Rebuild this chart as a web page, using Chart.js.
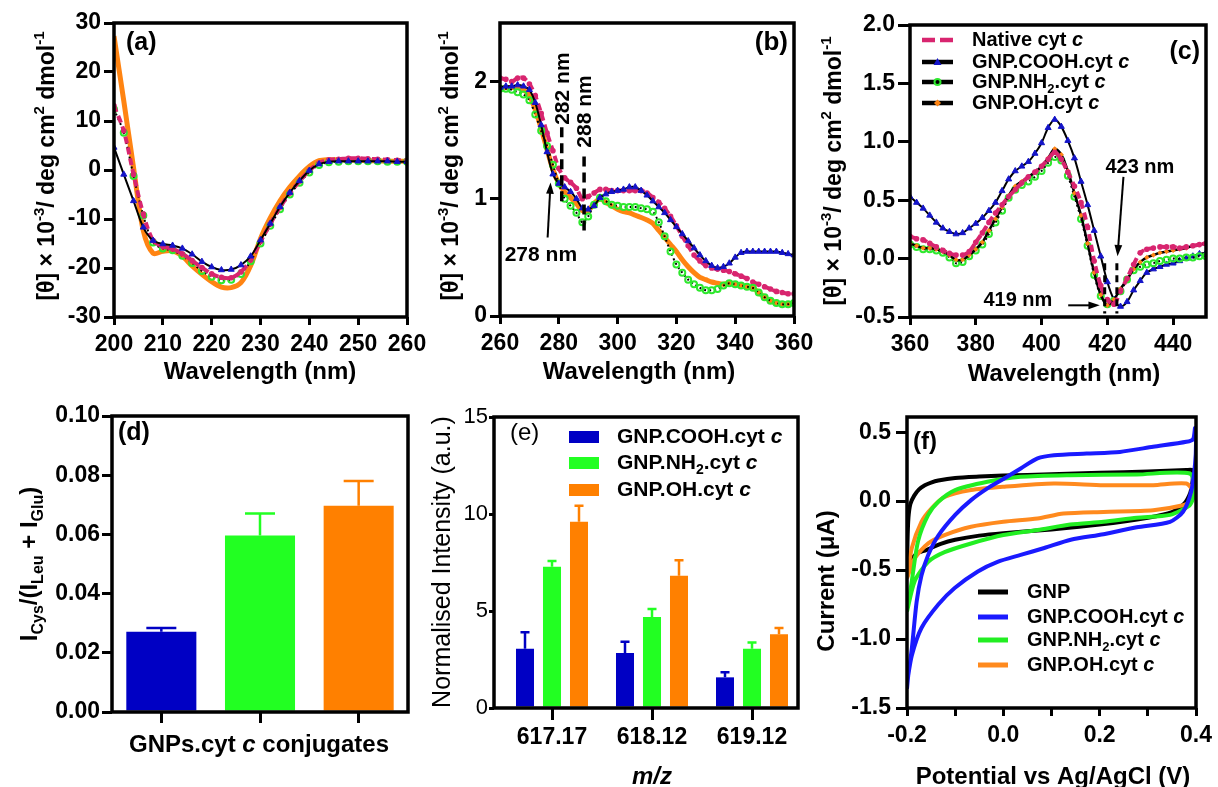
<!DOCTYPE html>
<html>
<head>
<meta charset="utf-8">
<title>CD, MS and CV of GNP-cyt c conjugates</title>
<script src="https://cdn.jsdelivr.net/npm/chart.js@4.4.1/dist/chart.umd.min.js"></script>
<style>
  html, body { margin: 0; padding: 0; background: #fff; }
  #fig { position: relative; width: 1218px; height: 787px; overflow: hidden; }
  #fig canvas { position: absolute; left: 0; top: 0; }
</style>
</head>
<body>
<div id="fig"></div>
<script>
// ---------- (a) far-UV CD ----------
const aNm = [200, 202, 204, 206, 208, 210, 212, 214, 216, 218, 220, 222, 224, 226, 228, 230,
  232, 234, 236, 238, 240, 242, 244, 246, 248, 250, 252, 254, 256, 258, 260];
const aNative = [13.1, 8.0, -0.9, -9.0, -14.4, -15.6, -16.1, -17.1, -18.5, -19.9, -21.2, -21.9, -22.0, -20.8, -18.3, -14.6,
  -11.0, -7.6, -4.7, -2.3, -0.1, 1.4, 2.1, 2.2, 2.4, 2.4, 2.3, 2.2, 2.1, 2.0, 2.0];
const aCOOH = [4.6, -0.9, -6.3, -11.7, -14.4, -15.1, -15.4, -16.0, -17.2, -18.7, -19.8, -20.4, -20.3, -19.4, -17.6, -14.3,
  -10.9, -7.5, -4.6, -2.2, -0.1, 1.2, 1.7, 1.8, 1.8, 1.8, 1.8, 1.8, 1.8, 1.7, 1.7];
const aNH2 = [12.4, 7.6, -1.2, -9.3, -14.8, -16.0, -16.4, -17.5, -19.0, -20.6, -21.8, -22.5, -22.4, -21.2, -18.6, -15.0,
  -11.4, -8.0, -5.0, -2.6, -0.5, 1.0, 1.6, 1.7, 1.8, 1.8, 1.8, 1.8, 1.7, 1.7, 1.7];
const aOH = [27.3, 14.1, 0.5, -12.4, -17.0, -16.6, -16.5, -17.6, -19.6, -21.3, -22.8, -23.9, -24.0, -23.0, -19.5, -14.0,
  -9.8, -6.3, -3.5, -1.2, 0.7, 1.9, 2.1, 2.1, 2.0, 2.0, 1.9, 1.9, 1.8, 1.8, 1.8];
const aTicksX = [200, 210, 220, 230, 240, 250, 260];
const aTicksY = [-30, -20, -10, 0, 10, 20, 30];

// ---------- (b) near-UV CD ----------
const bNm = [260, 262, 264, 266, 268, 270, 272, 274, 276, 278, 280, 282, 284, 286, 288, 290, 292, 294, 296, 298,
  300, 302, 304, 306, 308, 310, 312, 314, 316, 318, 320, 322, 324, 326, 328, 330, 332, 334, 336, 338,
  340, 342, 344, 346, 348, 350, 352, 354, 356, 358, 360];
const bNative = [2.03, 2.02, 2.00, 2.03, 2.03, 1.98, 1.88, 1.73, 1.56, 1.41, 1.26, 1.18, 1.14, 1.09, 1.00, 1.02, 1.05, 1.08, 1.08, 1.07,
  1.07, 1.07, 1.07, 1.07, 1.07, 1.05, 1.01, 0.97, 0.92, 0.85, 0.77, 0.68, 0.60, 0.52, 0.47, 0.43, 0.41, 0.40, 0.39, 0.38,
  0.36, 0.34, 0.32, 0.29, 0.27, 0.25, 0.23, 0.21, 0.20, 0.19, 0.19];
const bCOOH = [1.95, 1.96, 1.96, 1.97, 1.96, 1.93, 1.82, 1.63, 1.40, 1.21, 1.13, 1.10, 1.06, 1.00, 0.92, 0.91, 0.94, 1.01, 1.04, 1.06,
  1.07, 1.08, 1.10, 1.10, 1.07, 1.03, 0.98, 0.93, 0.88, 0.82, 0.76, 0.70, 0.64, 0.58, 0.52, 0.47, 0.43, 0.41, 0.42, 0.45,
  0.50, 0.54, 0.55, 0.55, 0.55, 0.55, 0.55, 0.55, 0.54, 0.53, 0.52];
const bNH2 = [1.94, 1.94, 1.93, 1.91, 1.89, 1.84, 1.72, 1.58, 1.45, 1.29, 1.13, 1.00, 0.94, 0.88, 0.80, 0.85, 0.95, 1.01, 0.98, 0.95,
  0.94, 0.93, 0.93, 0.93, 0.92, 0.91, 0.89, 0.80, 0.68, 0.55, 0.44, 0.37, 0.31, 0.27, 0.24, 0.22, 0.22, 0.23, 0.26, 0.28,
  0.27, 0.26, 0.25, 0.24, 0.20, 0.16, 0.13, 0.11, 0.10, 0.10, 0.11];
const bOH = [1.94, 1.95, 1.95, 1.95, 1.93, 1.88, 1.76, 1.60, 1.42, 1.25, 1.13, 1.06, 1.01, 0.96, 0.90, 0.90, 0.96, 1.00, 0.97, 0.94,
  0.91, 0.89, 0.88, 0.86, 0.84, 0.82, 0.79, 0.73, 0.67, 0.61, 0.55, 0.48, 0.42, 0.37, 0.33, 0.31, 0.29, 0.28, 0.27, 0.28,
  0.27, 0.26, 0.25, 0.24, 0.20, 0.16, 0.13, 0.11, 0.10, 0.10, 0.11];
const bTicksX = [260, 280, 300, 320, 340, 360];
const bTicksY = [0, 1, 2];
// dashed markers (nm, top, bottom, label, label height) and the 278 nm arrow
const bMarkNm = [281, 288.6];
const bMarkTop = [1.61, 1.36];
const bMarkBottom = [0.94, 0.70];
const bMarkLabel = ['282 nm', '288 nm'];
const bMarkLabelY = [1.94, 1.745];
const bArrowFrom = [276.2, 0.67];
const bArrowTo = [277.2, 1.14];
const bNoteAt = [273.9, 0.52];

// ---------- (c) Soret CD ----------
const cNm = [360, 362, 364, 366, 368, 370, 372, 374, 376, 378, 380, 382, 384, 386, 388, 390, 392, 394, 396, 398,
  400, 402, 404, 406, 408, 410, 412, 414, 416, 418, 420, 422, 424, 426, 428, 430, 432, 434, 436, 438,
  440, 442, 444, 446, 448, 450];
const cNative = [0.19, 0.17, 0.16, 0.13, 0.10, 0.07, 0.045, 0.03, 0.03, 0.06, 0.14, 0.22, 0.31, 0.39, 0.46, 0.53, 0.59, 0.65, 0.70, 0.74,
  0.79, 0.85, 0.91, 0.85, 0.74, 0.62, 0.48, 0.27, -0.02, -0.23, -0.35, -0.39, -0.28, -0.17, -0.05, 0.05, 0.08, 0.09, 0.10, 0.10,
  0.10, 0.09, 0.10, 0.11, 0.12, 0.13];
const cCOOH = [0.53, 0.48, 0.43, 0.37, 0.31, 0.26, 0.23, 0.21, 0.22, 0.26, 0.30, 0.35, 0.41, 0.48, 0.58, 0.68, 0.75, 0.79, 0.83, 0.90,
  0.99, 1.12, 1.19, 1.13, 1.01, 0.86, 0.66, 0.46, 0.24, 0.02, -0.20, -0.35, -0.41, -0.37, -0.27, -0.19, -0.12, -0.09, -0.07, -0.05,
  -0.04, -0.02, 0.00, 0.02, 0.04, 0.05];
const cNH2 = [0.12, 0.10, 0.08, 0.08, 0.07, 0.05, 0.01, -0.04, -0.03, 0.02, 0.07, 0.12, 0.21, 0.31, 0.41, 0.52, 0.59, 0.63, 0.66, 0.70,
  0.75, 0.82, 0.87, 0.84, 0.71, 0.53, 0.34, 0.11, -0.14, -0.32, -0.39, -0.36, -0.28, -0.18, -0.10, -0.07, -0.05, -0.04, -0.02, -0.01,
  0.00, 0.00, 0.01, 0.01, 0.02, 0.02];
const cOH = [0.13, 0.11, 0.09, 0.09, 0.08, 0.06, 0.03, -0.01, -0.01, 0.03, 0.08, 0.14, 0.24, 0.34, 0.44, 0.54, 0.62, 0.66, 0.70, 0.74,
  0.79, 0.86, 0.94, 0.89, 0.75, 0.56, 0.37, 0.13, -0.12, -0.31, -0.40, -0.35, -0.26, -0.18, -0.09, -0.03, 0.01, 0.03, 0.05, 0.06,
  0.07, 0.08, 0.09, 0.11, 0.12, 0.13];
const cTicksX = [360, 380, 400, 420, 440];
const cTicksY = [-0.5, 0, 0.5, 1, 1.5, 2];
const cMarkNm = [419.2, 422.9];
const cMarkTop = -0.04;
const cMarkBottom = -0.47;
const cNote423 = [429.9, 0.78];
const cArrow423 = [424.9, 0.70, 423.1, 0.02];
const cNote419 = [392.8, -0.36];
const cArrow419 = [408.1, -0.40, 417.7, -0.40];

// ---------- (d) Cys ratio ----------
const dCats = ['GNP.COOH.cyt c', 'GNP.NH2.cyt c', 'GNP.OH.cyt c'];
const dValues = [0.0271, 0.0596, 0.0697];
const dErrors = [0.0013, 0.0075, 0.0083];
const dTicksY = [0, 0.02, 0.04, 0.06, 0.08, 0.1];

// ---------- (e) MS intensities ----------
const eCats = ['617.17', '618.12', '619.12'];
const eCOOH = [3.06, 2.84, 1.58];
const eCOOHErr = [0.84, 0.58, 0.26];
const eNH2 = [7.28, 4.69, 3.06];
const eNH2Err = [0.30, 0.41, 0.31];
const eOH = [9.60, 6.82, 3.80];
const eOHErr = [0.83, 0.79, 0.32];
const eTicksY = [0, 5, 10, 15];

// ---------- (f) cyclic voltammetry (loops, in scan order) ----------
const fGnpV = [-0.2, -0.199, -0.197, -0.193, -0.185, -0.175, -0.163, -0.15, -0.135, -0.1, -0.05, 0.0, 0.1, 0.2, 0.3, 0.38, 0.392,
  0.393, 0.388, 0.375, 0.35, 0.3, 0.2, 0.1, 0.0, -0.05, -0.1, -0.13, -0.16, -0.18, -0.193, -0.2];
const fGnpI = [-0.55, -0.3, -0.12, -0.02, 0.04, 0.085, 0.115, 0.135, 0.15, 0.168, 0.178, 0.185, 0.195, 0.205, 0.215, 0.225, 0.225,
  0.15, 0.06, -0.02, -0.08, -0.12, -0.17, -0.205, -0.232, -0.25, -0.28, -0.31, -0.355, -0.38, -0.44, -0.55];
const fCoohV = [-0.2, -0.197, -0.19, -0.18, -0.17, -0.156, -0.135, -0.1, -0.067, -0.033, 0.0, 0.036, 0.071, 0.105, 0.173, 0.242,
  0.311, 0.38, 0.394, 0.398, 0.4, 0.398, 0.39, 0.373, 0.346, 0.277, 0.208, 0.14, 0.085, 0.036, -0.012, -0.053, -0.101, -0.135,
  -0.17, -0.19, -0.2];
const fCoohI = [-1.36, -1.25, -1.07, -0.73, -0.54, -0.39, -0.25, -0.10, 0.007, 0.092, 0.16, 0.237, 0.31, 0.333, 0.345, 0.357,
  0.394, 0.43, 0.45, 0.53, 0.42, 0.27, 0.07, -0.077, -0.15, -0.19, -0.24, -0.28, -0.34, -0.39, -0.44, -0.51, -0.63, -0.75,
  -0.92, -1.12, -1.32];
const fNh2V = [-0.2, -0.19, -0.177, -0.156, -0.135, -0.1, -0.033, 0.036, 0.139, 0.277, 0.387, 0.398, 0.394, 0.387, 0.346, 0.277,
  0.208, 0.139, 0.071, 0.0, -0.067, -0.122, -0.156, -0.184, -0.2];
const fNh2I = [-0.80, -0.58, -0.29, -0.10, -0.005, 0.08, 0.14, 0.176, 0.188, 0.193, 0.2, 0.08, 0.02, -0.03, -0.10, -0.12,
  -0.15, -0.17, -0.21, -0.246, -0.307, -0.37, -0.44, -0.58, -0.80];
const fOhV = [-0.2, -0.19, -0.17, -0.149, -0.122, -0.067, 0.0, 0.105, 0.208, 0.311, 0.38, 0.395, 0.39, 0.373, 0.311, 0.208,
  0.125, 0.071, 0.0, -0.067, -0.122, -0.156, -0.184, -0.2];
const fOhI = [-0.56, -0.34, -0.15, -0.052, 0.03, 0.08, 0.104, 0.128, 0.116, 0.116, 0.128, 0.06, 0.0, -0.03, -0.066, -0.078,
  -0.09, -0.126, -0.15, -0.186, -0.246, -0.306, -0.415, -0.56];
const fTicksX = [-0.2, -0.1, 0, 0.1, 0.2, 0.3, 0.4];
const fTicksY = [-1.5, -1, -0.5, 0, 0.5];

// ---------- drawing ----------
const W = 1218, H = 787, YW = 70, XH = 50;
const FONT = '"Liberation Sans", Arial, Helvetica, sans-serif';
const PINK = '#d8256f', BLUE = '#1414c8', GREEN = '#2ee82e', ORANGE = '#ff8412';
const BAR_BLUE = '#0000c4', BAR_GREEN = '#22ff22', BAR_ORANGE = '#ff8000';
const CV_BLUE = '#1a1aff', CV_GREEN = '#22ee22', CV_ORANGE = '#ff8a1e';
const THETA_TITLE = '[θ] × 10^{-3}/ deg cm^{2} dmol^{-1}';

const BOX = {
  a: { l: 114, t: 23, r: 407, b: 317 },
  b: { l: 500, t: 23, r: 794, b: 316 },
  c: { l: 910, t: 25, r: 1206, b: 317 },
  d: { l: 112, t: 416, r: 408, b: 712 },
  e: { l: 494, t: 417, r: 798, b: 708 },
  f: { l: 907, t: 417, r: 1198, b: 708 }
};

// "^{..}" superscript, "_{..}" subscript, "*..*" italic
function parseRich(str) {
  const parts = [];
  let buf = '', italic = false, i = 0;
  const flush = () => { if (buf) parts.push({ t: buf, italic, shift: 0 }); buf = ''; };
  while (i < str.length) {
    const ch = str[i];
    if ((ch === '^' || ch === '_') && str[i + 1] === '{') {
      flush();
      const end = str.indexOf('}', i);
      parts.push({ t: str.slice(i + 2, end), italic, shift: ch === '^' ? -1 : 1 });
      i = end + 1;
      continue;
    }
    if (ch === '*') { flush(); italic = !italic; i++; continue; }
    buf += ch; i++;
  }
  flush();
  return parts;
}

function richText(ctx, str, x, y, o) {
  const size = o.size || 22, weight = o.weight || 'bold';
  const parts = parseRich(str);
  const fontOf = p => (p.italic ? 'italic ' : '') + weight + ' ' + (p.shift ? Math.round(size * 0.66) : size) + 'px ' + FONT;
  let total = 0;
  parts.forEach(p => { ctx.font = fontOf(p); p.w = ctx.measureText(p.t).width; total += p.w; });
  ctx.save();
  ctx.translate(x, y);
  if (o.rotate) ctx.rotate(-Math.PI / 2);
  ctx.fillStyle = o.color || '#000';
  ctx.textBaseline = 'middle';
  ctx.textAlign = 'left';
  let cx = o.align === 'left' ? 0 : o.align === 'right' ? -total : -total / 2;
  parts.forEach(p => {
    ctx.font = fontOf(p);
    ctx.fillText(p.t, cx, p.shift * size * 0.36);
    cx += p.w;
  });
  ctx.restore();
}

function arrow(ctx, x1, y1, x2, y2) {
  const ang = Math.atan2(y2 - y1, x2 - x1), hl = 12;
  ctx.save();
  ctx.strokeStyle = ctx.fillStyle = '#000';
  ctx.lineWidth = 2;
  ctx.beginPath();
  ctx.moveTo(x1, y1);
  ctx.lineTo(x2 - Math.cos(ang) * hl * 0.8, y2 - Math.sin(ang) * hl * 0.8);
  ctx.stroke();
  ctx.beginPath();
  ctx.moveTo(x2, y2);
  ctx.lineTo(x2 - hl * Math.cos(ang - 0.33), y2 - hl * Math.sin(ang - 0.33));
  ctx.lineTo(x2 - hl * Math.cos(ang + 0.33), y2 - hl * Math.sin(ang + 0.33));
  ctx.closePath();
  ctx.fill();
  ctx.restore();
}

function vdash(ctx, x, y1, y2, dash, lw) {
  ctx.save();
  ctx.strokeStyle = '#000';
  ctx.lineWidth = lw;
  ctx.setLineDash(dash);
  ctx.beginPath();
  ctx.moveTo(x, y1);
  ctx.lineTo(x, y2);
  ctx.stroke();
  ctx.restore();
}

function pts(xs, ys) { return xs.map((x, i) => ({ x, y: ys[i] })); }

const STY = {
  native: { borderColor: PINK, borderWidth: 4, borderDash: [7, 4], pointStyle: 'circle', pointRadius: 2.8,
    pointBackgroundColor: PINK, pointBorderWidth: 0 },
  cooh: { borderColor: '#000', borderWidth: 2, pointStyle: 'triangle', pointRadius: 3.5,
    pointBackgroundColor: BLUE, pointBorderColor: BLUE, pointBorderWidth: 1 },
  nh2: { borderColor: '#000', borderWidth: 2, borderDash: [2, 3], pointStyle: 'circle', pointRadius: 3,
    pointBackgroundColor: 'rgba(0,0,0,0)', pointBorderColor: GREEN, pointBorderWidth: 2 },
  ohThick: { borderColor: ORANGE, borderWidth: 5, pointRadius: 0 },
  ohMark: { borderColor: '#000', borderWidth: 2.5, pointStyle: 'rectRot', pointRadius: 2.6,
    pointBackgroundColor: ORANGE, pointBorderColor: ORANGE, pointBorderWidth: 0 }
};

function lineDs(xs, ys, style) {
  return Object.assign({ data: pts(xs, ys), tension: 0.3, fill: false }, STY[style]);
}

function cvDs(xs, ys, color) {
  return { data: pts(xs, ys), showLine: true, borderColor: color, borderWidth: 4, pointRadius: 0, tension: 0.25, fill: false };
}

function axis(pos, min, max, ticks, fmt, o) {
  o = o || {};
  const left = pos === 'left';
  return {
    type: 'linear', position: pos, min, max, offset: false,
    afterBuildTicks: s => { s.ticks = ticks.map(v => ({ value: v })); },
    afterFit: s => { if (left) s.width = YW; else s.height = XH; },
    grid: { drawOnChartArea: false, drawTicks: true, offset: false, tickLength: o.tick || (left ? 10 : 8),
      color: '#000', lineWidth: 3 },
    border: { display: false },
    ticks: { color: '#000', autoSkip: false, maxRotation: 0, padding: o.pad !== undefined ? o.pad : (left ? 3 : 6),
      font: { family: FONT, size: o.size || 23, weight: o.weight || 'bold' },
      callback: v => fmt(v) }
  };
}

function deco(draw) {
  return {
    id: 'deco',
    afterDraw(chart) {
      const ctx = chart.ctx, a = chart.chartArea;
      ctx.save();
      ctx.strokeStyle = '#000';
      ctx.lineWidth = 3.5;
      ctx.strokeRect(a.left, a.top, a.right - a.left, a.bottom - a.top);
      ctx.restore();
      draw(ctx, chart.scales.x, chart.scales.y, chart);
    }
  };
}

function panel(box, config, draw) {
  const c = document.createElement('canvas');
  c.width = W; c.height = H;
  c.style.width = W + 'px'; c.style.height = H + 'px';
  document.getElementById('fig').appendChild(c);
  config.options = Object.assign({
    responsive: false, animation: false, devicePixelRatio: 1, events: [],
    layout: { padding: { left: box.l - YW, top: box.t, right: W - box.r, bottom: H - box.b - XH } },
    plugins: { legend: { display: false }, tooltip: { enabled: false } }
  }, config.options);
  config.plugins = [deco(draw)];
  return new Chart(c, config);
}

function cdLegendSample(ctx, kind, x1, x2, y) {
  ctx.save();
  ctx.lineWidth = 4.5;
  if (kind === 'native') {
    ctx.strokeStyle = PINK;
    ctx.setLineDash([13, 5]);
  } else {
    ctx.strokeStyle = '#000';
  }
  ctx.beginPath(); ctx.moveTo(x1, y); ctx.lineTo(x2, y); ctx.stroke();
  ctx.setLineDash([]);
  const mx = (x1 + x2) / 2;
  if (kind === 'cooh') {
    ctx.fillStyle = BLUE;
    ctx.beginPath(); ctx.moveTo(mx, y - 4); ctx.lineTo(mx + 4, y + 3); ctx.lineTo(mx - 4, y + 3); ctx.closePath(); ctx.fill();
  } else if (kind === 'nh2') {
    ctx.strokeStyle = GREEN; ctx.lineWidth = 2;
    ctx.beginPath(); ctx.arc(mx, y, 3, 0, Math.PI * 2); ctx.stroke();
  } else if (kind === 'oh') {
    ctx.fillStyle = ORANGE;
    ctx.beginPath(); ctx.moveTo(mx, y - 3.5); ctx.lineTo(mx + 3.5, y); ctx.lineTo(mx, y + 3.5); ctx.lineTo(mx - 3.5, y); ctx.closePath(); ctx.fill();
  }
  ctx.restore();
}

function errorBars(ctx, chart, errs, capW) {
  const ys = chart.scales.y;
  chart.data.datasets.forEach((ds, di) => {
    chart.getDatasetMeta(di).data.forEach((bar, i) => {
      const raw = ds.data[i];
      const v = typeof raw === 'number' ? raw : raw.y;
      const top = ys.getPixelForValue(v + errs[di][i]);
      const col = Array.isArray(ds.backgroundColor) ? ds.backgroundColor[i] : ds.backgroundColor;
      ctx.save();
      ctx.strokeStyle = col;
      ctx.lineWidth = 2.5;
      ctx.beginPath();
      ctx.moveTo(bar.x, bar.y);
      ctx.lineTo(bar.x, top);
      ctx.moveTo(bar.x - capW / 2, top);
      ctx.lineTo(bar.x + capW / 2, top);
      ctx.stroke();
      ctx.restore();
    });
  });
}

// (a)
panel(BOX.a, {
  type: 'line',
  data: { datasets: [lineDs(aNm, aCOOH, 'cooh'), lineDs(aNm, aNative, 'native'), lineDs(aNm, aNH2, 'nh2'), lineDs(aNm, aOH, 'ohThick')] },
  options: { scales: {
    x: axis('bottom', 200, 260, aTicksX, v => String(v)),
    y: axis('left', -30, 30, aTicksY, v => String(v))
  } }
}, (ctx) => {
  richText(ctx, '(a)', 126, 43, { align: 'left', size: 25 });
  richText(ctx, 'Wavelength (nm)', 260, 372, { size: 24 });
  richText(ctx, THETA_TITLE, 48, 166, { size: 23, rotate: true });
});

// (b)
panel(BOX.b, {
  type: 'line',
  data: { datasets: [lineDs(bNm, bCOOH, 'cooh'), lineDs(bNm, bNH2, 'nh2'), lineDs(bNm, bNative, 'native'), lineDs(bNm, bOH, 'ohThick')] },
  options: { scales: {
    x: axis('bottom', 260, 360, bTicksX, v => String(v)),
    y: axis('left', 0, 2.5, bTicksY, v => String(v))
  } }
}, (ctx, x, y) => {
  richText(ctx, '(b)', 788, 43, { align: 'right', size: 26 });
  richText(ctx, 'Wavelength (nm)', 639, 372, { size: 24 });
  richText(ctx, THETA_TITLE, 452, 166, { size: 23, rotate: true });
  bMarkNm.forEach((nm, i) => {
    const px = x.getPixelForValue(nm);
    vdash(ctx, px, y.getPixelForValue(bMarkTop[i]), y.getPixelForValue(bMarkBottom[i]), [10, 6], 3.5);
    richText(ctx, bMarkLabel[i], px + 1, y.getPixelForValue(bMarkLabelY[i]), { size: 21, rotate: true });
  });
  arrow(ctx, x.getPixelForValue(bArrowFrom[0]), y.getPixelForValue(bArrowFrom[1]),
    x.getPixelForValue(bArrowTo[0]), y.getPixelForValue(bArrowTo[1]));
  richText(ctx, '278 nm', x.getPixelForValue(bNoteAt[0]), y.getPixelForValue(bNoteAt[1]), { size: 21 });
});

// (c)
panel(BOX.c, {
  type: 'line',
  data: { datasets: [lineDs(cNm, cNative, 'native'), lineDs(cNm, cOH, 'ohMark'), lineDs(cNm, cNH2, 'nh2'), lineDs(cNm, cCOOH, 'cooh')] },
  options: { scales: {
    x: axis('bottom', 360, 450, cTicksX, v => String(v)),
    y: axis('left', -0.5, 2.0, cTicksY, v => v.toFixed(1), { tick: 12 })
  } }
}, (ctx, x, y) => {
  richText(ctx, '(c)', 1200, 52, { align: 'right', size: 25 });
  richText(ctx, 'Wavelength (nm)', 1064, 374, { size: 24 });
  richText(ctx, THETA_TITLE, 835, 171, { size: 23, rotate: true });
  const legend = [['Native cyt *c*', 'native'], ['GNP.COOH.cyt *c*', 'cooh'], ['GNP.NH_{2}.cyt *c*', 'nh2'], ['GNP.OH.cyt *c*', 'oh']];
  [40, 62, 82, 103].forEach((ly, i) => {
    cdLegendSample(ctx, legend[i][1], 922, 953, ly);
    richText(ctx, legend[i][0], 972, ly, { align: 'left', size: 20 });
  });
  cMarkNm.forEach(nm => {
    vdash(ctx, x.getPixelForValue(nm), y.getPixelForValue(cMarkTop), y.getPixelForValue(cMarkBottom), [7, 5], 3);
  });
  richText(ctx, '423 nm', x.getPixelForValue(cNote423[0]), y.getPixelForValue(cNote423[1]), { size: 20 });
  arrow(ctx, x.getPixelForValue(cArrow423[0]), y.getPixelForValue(cArrow423[1]),
    x.getPixelForValue(cArrow423[2]), y.getPixelForValue(cArrow423[3]));
  richText(ctx, '419 nm', x.getPixelForValue(cNote419[0]), y.getPixelForValue(cNote419[1]), { size: 20 });
  arrow(ctx, x.getPixelForValue(cArrow419[0]), y.getPixelForValue(cArrow419[1]),
    x.getPixelForValue(cArrow419[2]), y.getPixelForValue(cArrow419[3]));
});

// (d)
panel(BOX.d, {
  type: 'bar',
  data: { labels: dCats, datasets: [{ data: dValues, backgroundColor: [BAR_BLUE, BAR_GREEN, BAR_ORANGE], borderWidth: 0,
    categoryPercentage: 1, barPercentage: 0.71 }] },
  options: { scales: {
    x: { type: 'category', offset: true, afterFit: s => { s.height = XH; },
      grid: { drawOnChartArea: false, drawTicks: true, offset: false, tickLength: 11, color: '#000', lineWidth: 3 },
      border: { display: false }, ticks: { callback: () => '' } },
    y: axis('left', 0, 0.1, dTicksY, v => v.toFixed(2), { pad: 2 })
  } }
}, (ctx, x, y, chart) => {
  errorBars(ctx, chart, [dErrors], 30);
  richText(ctx, '(d)', 118, 433, { align: 'left', size: 25 });
  richText(ctx, 'GNPs.cyt *c* conjugates', 259, 745, { size: 24 });
  richText(ctx, 'I_{Cys}/(I_{Leu} + I_{Glu})', 30, 564, { size: 24, rotate: true });
});

// (e)
panel(BOX.e, {
  type: 'bar',
  data: { datasets: [
    { data: pts([0, 1, 2], eCOOH), backgroundColor: BAR_BLUE, borderWidth: 0, categoryPercentage: 0.81, barPercentage: 0.667 },
    { data: pts([0, 1, 2], eNH2), backgroundColor: BAR_GREEN, borderWidth: 0, categoryPercentage: 0.81, barPercentage: 0.667 },
    { data: pts([0, 1, 2], eOH), backgroundColor: BAR_ORANGE, borderWidth: 0, categoryPercentage: 0.81, barPercentage: 0.667 }
  ] },
  options: { scales: {
    x: axis('bottom', -0.58, 2.46, [0, 1, 2], v => eCats[v], { tick: 12, pad: 4 }),
    y: axis('left', 0, 15, eTicksY, v => String(v), { tick: 5, pad: 1, weight: 'normal', size: 22 })
  } }
}, (ctx, x, y, chart) => {
  errorBars(ctx, chart, [eCOOHErr, eNH2Err, eOHErr], 9);
  richText(ctx, '(e)', 510, 433, { align: 'left', size: 24, weight: 'normal' });
  richText(ctx, '*m/z*', 652, 777, { size: 24 });
  richText(ctx, 'Normalised Intensity (a.u.)', 443, 562, { size: 25, weight: 'normal', rotate: true });
  const cols = [BAR_BLUE, BAR_GREEN, BAR_ORANGE];
  const names = ['GNP.COOH.cyt *c*', 'GNP.NH_{2}.cyt *c*', 'GNP.OH.cyt *c*'];
  [437, 463, 490].forEach((ly, i) => {
    ctx.fillStyle = cols[i];
    ctx.fillRect(569, ly - 6, 30, 12);
    richText(ctx, names[i], 617, ly, { align: 'left', size: 21 });
  });
});

// (f)
panel(BOX.f, {
  type: 'scatter',
  data: { datasets: [cvDs(fCoohV, fCoohI, CV_BLUE), cvDs(fNh2V, fNh2I, CV_GREEN), cvDs(fOhV, fOhI, CV_ORANGE), cvDs(fGnpV, fGnpI, '#000')] },
  options: { scales: {
    x: axis('bottom', -0.2, 0.4, fTicksX, v => (Math.round(v * 10) % 2 === 0 ? v.toFixed(1) : ''), { tick: 8 }),
    y: axis('left', -1.5, 0.61, fTicksY, v => v.toFixed(1), { tick: 11, pad: 5 })
  } }
}, (ctx) => {
  richText(ctx, '(f)', 913, 442, { align: 'left', size: 24 });
  richText(ctx, 'Potential vs Ag/AgCl (V)', 1053, 777, { size: 24 });
  richText(ctx, 'Current (μA)', 827, 581, { size: 24, rotate: true });
  const cols = ['#000', CV_BLUE, CV_GREEN, CV_ORANGE];
  const names = ['GNP', 'GNP.COOH.cyt *c*', 'GNP.NH_{2}.cyt *c*', 'GNP.OH.cyt *c*'];
  [592, 617, 640, 665].forEach((ly, i) => {
    ctx.save();
    ctx.strokeStyle = cols[i];
    ctx.lineWidth = 5;
    ctx.beginPath(); ctx.moveTo(978, ly); ctx.lineTo(1008, ly); ctx.stroke();
    ctx.restore();
    richText(ctx, names[i], 1027, ly, { align: 'left', size: 20 });
  });
});
</script>
</body>
</html>
